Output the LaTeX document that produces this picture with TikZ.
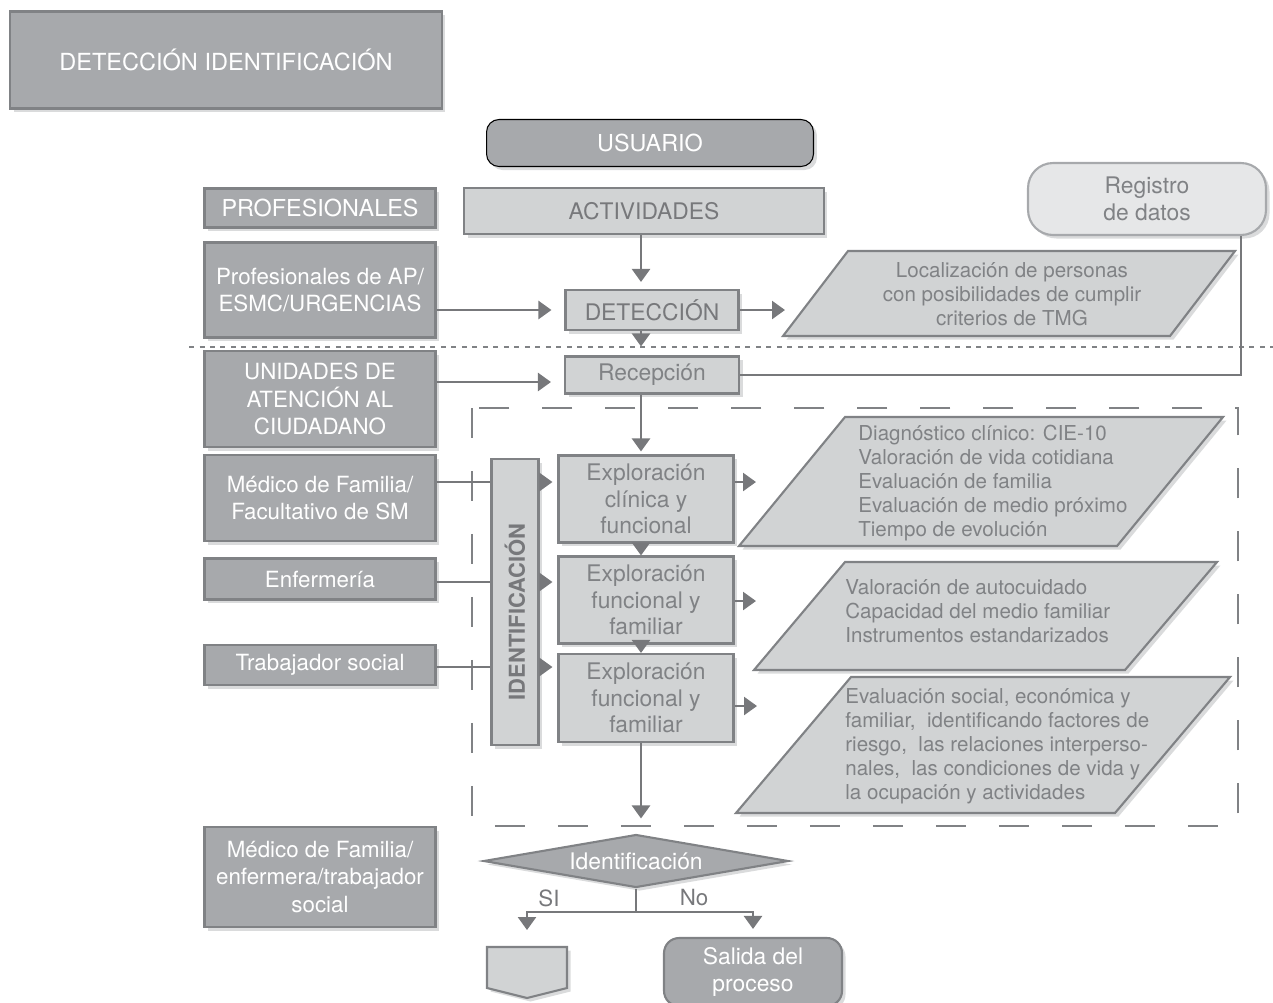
\documentclass[tikz,border=0pt]{standalone}
\usepackage{fontspec}
\setmainfont{TeX Gyre Heros}
\usetikzlibrary{arrows.meta,shapes.geometric,shadows}

\definecolor{grisoscuro}{HTML}{A7A9AC}
\definecolor{grisborde}{HTML}{808285}
\definecolor{grisclaro}{HTML}{D1D3D4}
\definecolor{grislinea}{HTML}{77787B}
\definecolor{gristexto}{HTML}{808285}
\definecolor{grisregistro}{HTML}{E6E7E8}
\definecolor{grissombra}{HTML}{DADBDC}

\begin{document}
\begin{tikzpicture}[x=0.02cm, y=-0.02cm,
		sombra/.style={drop shadow={shadow xshift=2pt, shadow yshift=-2pt, fill=grissombra, opacity=1}},
		oscuro/.style={draw=grisborde, line width=1.2pt, fill=grisoscuro, text=white, sombra, align=center, inner sep=0pt, minimum width=4.62cm, font=\fontsize{12.7}{15.6}\selectfont},
		claro/.style={draw=grisborde, line width=1.2pt, fill=grisclaro, text=gristexto, sombra, align=center, inner sep=0pt, font=\fontsize{13}{15.2}\selectfont},
		pieza/.style={draw=grisborde, line width=1.2pt, fill=grisclaro, sombra},
		texto/.style={text=gristexto, align=left, inner sep=0pt, font=\fontsize{11.7}{13.6}\selectfont},
		etiqueta/.style={text=grislinea, inner sep=0pt, font=\fontsize{12.7}{15}\selectfont},
		flecha/.style={draw=grislinea, line width=1.4pt, -{Triangle[length=0.26cm, width=0.36cm]}},
		linea/.style={draw=grislinea, line width=1.4pt}]
		
		\useasboundingbox (0,0) rectangle (1273,1002);
		
		% Titulo
		\node[oscuro, line width=1.6pt, minimum width=8.64cm, minimum height=1.94cm, font=\fontsize{13.4}{16}\selectfont] (titulo) at (226,60) {DETECCIÓN IDENTIFICACIÓN};
		
		% Cabeceras
		\node[oscuro, draw=black, line width=0.6pt, rounded corners=0.25cm, minimum width=6.54cm, minimum height=0.94cm, font=\fontsize{13.3}{16}\selectfont] (usuario) at (650,143) {USUARIO};
		\node[oscuro, minimum height=0.78cm, font=\fontsize{13.3}{16}\selectfont] (prof) at (320,208) {PROFESIONALES};
		\node[claro, text=grislinea, minimum width=7.2cm, minimum height=0.92cm] (actividades) at (644,211) {ACTIVIDADES};
		\node[claro, draw=grisoscuro, fill=grisregistro, rounded corners=0.5cm, minimum width=4.76cm, minimum height=1.44cm] (registro) at (1147,199) {Registro\\de datos};
		
		% Profesionales
		\node[oscuro, minimum height=1.9cm] (profap) at (320,290) {Profesionales de AP/\\ESMC/URGENCIAS};
		\node[oscuro, minimum height=1.92cm] (unidades) at (320,399) {UNIDADES DE\\ATENCIÓN AL\\CIUDADANO};
		\node[oscuro, minimum height=1.72cm] (medico) at (320,498) {Médico de Familia/\\Facultativo de SM};
		\node[oscuro, minimum height=0.82cm] (enfermeria) at (320,579) {Enfermería};
		\node[oscuro, minimum height=0.8cm] (trabajador) at (320,665) {Trabajador social};
		\node[oscuro, minimum height=2cm] (medico2) at (320,877) {Médico de Familia/\\enfermera/trabajador\\social};
		
		% Actividades
		\node[claro, text=grislinea, minimum width=3.46cm, minimum height=0.8cm] (deteccion) at (652,310) {DETECCIÓN};
		\node[claro, minimum width=3.48cm, minimum height=0.74cm] (recepcion) at (652,375) {Recepción};
		\node[claro, minimum width=0.94cm, minimum height=5.72cm] (barra) at (515,602) {};
		\node[text=grislinea, rotate=90, font=\fontsize{12.5}{15}\selectfont\bfseries] (ident) at (515,612) {IDENTIFICACIÓN};
		\node[claro, minimum width=3.5cm, minimum height=1.74cm] (expl1) at (646,499) {Exploración\\clínica y\\funcional};
		\node[claro, minimum width=3.5cm, minimum height=1.74cm] (expl2) at (646,600) {Exploración\\funcional y\\familiar};
		\node[claro, minimum width=3.5cm, minimum height=1.76cm] (expl3) at (646,698) {Exploración\\funcional y\\familiar};
		
		% Registros de la actividad
		\draw[pieza, sombra/.style={drop shadow={shadow xshift=2pt, shadow yshift=2pt, fill=grissombra, opacity=1}}] (848,251) -- (1235,251) -- (1170,336) -- (783,336) -- cycle;
		\draw[pieza] (845,417) -- (1223,417) -- (1117,546) -- (739,546) -- cycle;
		\draw[pieza] (845,562) -- (1217,562) -- (1125,670) -- (754,670) -- cycle;
		\draw[pieza] (851,677) -- (1230,677) -- (1115,813) -- (736,813) -- cycle;
		\node[texto, align=center] (loc) at (1012,294) {Localización de personas\\con posibilidades de cumplir\\criterios de TMG};
		\node[texto, anchor=west] (diag) at (858,483) {Diagnóstico clínico: CIE-10\\Valoración de vida cotidiana\\Evaluación de familia\\Evaluación de medio próximo\\Tiempo de evolución};
		\node[texto, anchor=west] (auto) at (845,611) {Valoración de autocuidado\\Capacidad del medio familiar\\Instrumentos estandarizados};
		\node[texto, anchor=west] (social) at (845,746) {Evaluación social, económica y\\familiar,~ identificando factores de\\riesgo,~ las relaciones interperso-\\nales,~ las condiciones de vida y\\la ocupación y actividades};
		
		% Limites
		\draw[grisborde, line width=1.3pt, dash pattern=on 0.1cm off 0.11cm] (189,347) -- (1273,347);
		\draw[grisborde, line width=1.2pt, dash pattern=on 0.6cm off 0.66cm] (472,408) rectangle (1238,826);
		
		% Decision
		\node[oscuro, diamond, aspect=5.8, minimum width=6.1cm, minimum height=1.06cm, font=\fontsize{13}{15}\selectfont] (decision) at (636,861) {Identificación};
		\node[oscuro, rounded corners=0.3cm, minimum width=3.56cm, minimum height=1.36cm, font=\fontsize{13}{15.2}\selectfont] (salida) at (753,972) {Salida del\\proceso};
		\draw[pieza] (487,947) -- (567,947) -- (567,988) -- (527,998) -- (487,988) -- cycle;
		\coordinate (conector) at (527,947);
		\node[etiqueta] (si) at (549,898) {SI};
		\node[etiqueta] (no) at (694,898) {No};
		
		% Puntos auxiliares
		\coordinate (eje) at (641,0);
		\coordinate (f1) at (0,482);
		\coordinate (f2) at (0,582);
		\coordinate (f3) at (0,667);
		\coordinate (e1) at (785,0);
		\coordinate (e2) at (756,0);
		\coordinate (e3) at (756,601);
		\coordinate (e4) at (757,706);
		\coordinate (rx) at (1241,0);
		\coordinate (bif) at (0,912);
		
		% Flujo principal
		\draw[flecha, shorten >=0.14cm] (actividades.south -| eje) -- (deteccion.north -| eje);
		\draw[flecha, shorten >=0.18cm] (deteccion.south -| eje) -- (recepcion.north -| eje);
		\draw[flecha, shorten >=0.06cm] (recepcion.south -| eje) -- (expl1.north -| eje);
		\draw[flecha] (expl1.south -| eje) -- (expl2.north -| eje);
		\draw[flecha] (expl2.south -| eje) -- (expl3.north -| eje);
		\draw[flecha, shorten >=0.3cm] (expl3.south -| eje) -- (decision.north -| eje);
		
		% Entradas de profesionales
		\draw[flecha, shorten >=0.26cm] (profap.east |- deteccion) -- (deteccion.west);
		\draw[flecha, shorten >=0.26cm] (unidades.east |- 0,382) -- (recepcion.west |- 0,382);
		\draw[linea] (medico.east |- f1) -- (barra.west |- f1);
		\draw[linea] (enfermeria.east |- f2) -- (barra.west |- f2);
		\draw[linea] (trabajador.east |- f3) -- (barra.west |- f3);
		\draw[flecha, shorten >=0.1cm] (barra.east |- f1) -- (expl1.west |- f1);
		\draw[flecha, shorten >=0.1cm] (barra.east |- f2) -- (expl2.west |- f2);
		\draw[flecha, shorten >=0.1cm] (barra.east |- f3) -- (expl3.west |- f3);
		
		% Salidas a registros
		\draw[flecha] (deteccion.east) -- (deteccion.east -| e1);
		\draw[flecha] (expl1.east |- f1) -- (e2 |- f1);
		\draw[flecha] (expl2.east |- e3) -- (e3);
		\draw[flecha] (expl3.east |- e4) -- (e4);
		\draw[linea, line width=1.1pt] (registro.south -| rx) |- (recepcion.east);
		
		% Bifurcacion
		\draw[linea] (decision.south) -- (decision.south |- bif);
		\draw[flecha, shorten >=0.34cm] (decision.south |- bif) -| (conector);
		\draw[flecha, shorten >=0.16cm] (decision.south |- bif) -| (salida.north);
		
	\end{tikzpicture}
\end{document}
